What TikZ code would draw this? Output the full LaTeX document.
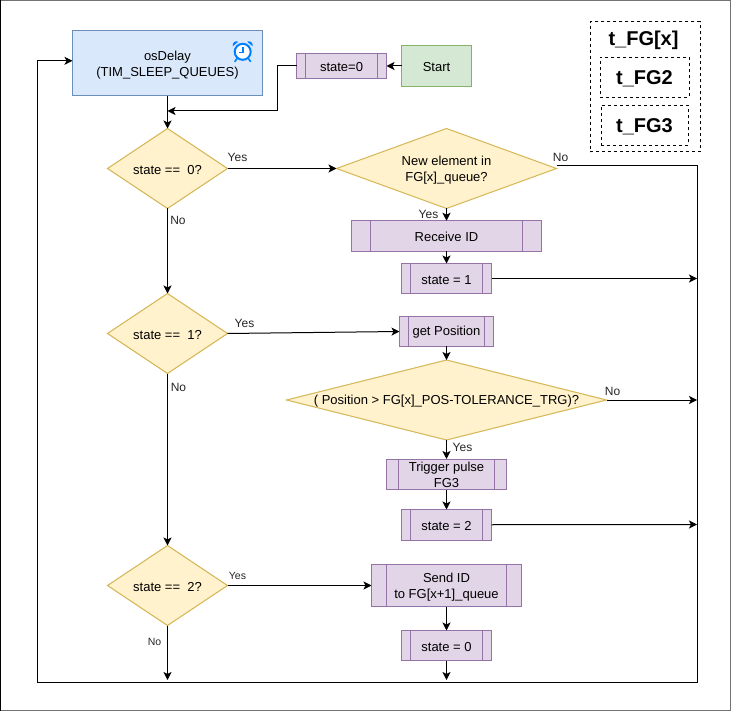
\documentclass[tikz,border=0pt]{standalone}
\usepackage{fontspec}
\setmainfont{Liberation Sans}
\usetikzlibrary{arrows.meta,shapes.geometric}
\definecolor{bfill}{HTML}{DAE8FC}\definecolor{bline}{HTML}{6C8EBF}
\definecolor{gfill}{HTML}{D5E8D4}\definecolor{gline}{HTML}{82B366}
\definecolor{pfill}{HTML}{E1D5E7}\definecolor{pline}{HTML}{9673A6}
\definecolor{yfill}{HTML}{FFF2CC}\definecolor{yline}{HTML}{D6B656}
\definecolor{clockblue}{HTML}{007FFF}
\newcommand\topgap[1]{\rule{0pt}{#1pt}}
\tikzset{
  x=1pt,y=-1pt,
  base/.style={inner sep=0pt,outer sep=0pt,align=center,line width=1pt,font=\fontsize{13}{16}\selectfont,
    execute at begin node={\rule{0pt}{11.5pt}}},
  boxb/.style={base,draw=bline,fill=bfill,minimum width=190pt,minimum height=65.5pt},
  boxg/.style={base,draw=gline,fill=gfill,minimum width=70pt,minimum height=40.5pt},
  proc/.style n args={3}{base,draw=pline,fill=pfill,minimum width=#1pt,minimum height=#2pt,
    path picture={
      \draw[pline,line width=1pt] ([xshift=#3pt]path picture bounding box.north west) -- ([xshift=#3pt]path picture bounding box.south west);
      \draw[pline,line width=1pt] ([xshift=-#3pt]path picture bounding box.north east) -- ([xshift=-#3pt]path picture bounding box.south east);
    }},
  dec/.style n args={3}{base,draw=yline,fill=yfill,shape=diamond,aspect=#3,minimum width=#1pt,minimum height=#2pt},
  conn/.style={line width=1pt,draw=black,-{Stealth[length=8pt,width=8pt,inset=2pt]}},
  lab/.style={inner sep=0pt,font=\fontsize{12}{14}\selectfont,text=black!85},
  smalllab/.style={inner sep=0pt,font=\fontsize{10.5}{12}\selectfont,text=black!85},
  dashbox/.style={draw=black,line width=1pt,dash pattern=on 3pt off 3pt,inner sep=0pt},
  bigt/.style={inner sep=0pt,font=\fontsize{20}{22}\selectfont\bfseries},
  dashtext/.style={dashbox,font=\fontsize{20}{22}\selectfont\bfseries,execute at begin node={\rule{0pt}{16.5pt}}},
}
\begin{document}
\begin{tikzpicture}
\useasboundingbox (0,0) rectangle (731,711);
% page frame
\draw[black!55,line width=1pt] (0,0.8) -- (730.5,0.8) -- (730.5,710.5) -- (0.5,710.5);
\draw[black!55,line width=1.2pt] (0,0.8) -- (731,0.8);
\draw[black,line width=1pt] (0.5,0) -- (0.5,711);

% nodes
\node[boxb] (os) at (167.5,63.25) {\topgap{12.5}osDelay\\(TIM\_SLEEP\_QUEUES)};
\node[proc={90}{25.5}{9}] (s0) at (341.5,66) {state=0};
\node[boxg] (start) at (436.5,66) {Start};

\node[dec={120}{80}{1.5}] (d0) at (167.5,168.5) {state ==\ \ 0?};
\node[dec={120}{80}{1.5}] (d1) at (167.5,333.5) {state ==\ \ 1?};
\node[dec={120}{80}{1.5}] (d2) at (167.5,585.5) {state ==\ \ 2?};

\node[dec={220}{80}{2.75}] (ne) at (446.5,168.5) {\topgap{13}New element in\\FG[x]\_queue?};
\node[proc={190}{30.5}{19}] (rid) at (446.5,236) {Receive ID};
\node[proc={90}{30}{9}] (s1) at (446.5,278.5) {state = 1};
\node[proc={94}{30}{9}] (gp) at (446.5,331.5) {get Position};
\node[dec={320}{80}{4},inner xsep=-4pt] (pos) at (446.5,400) {( Position > FG[x]\_POS-TOLERANCE\_TRG)?};
\node[proc={120}{30.5}{12}] (trg) at (446.5,474.25) {\topgap{11}Trigger pulse\\FG3};
\node[proc={90}{30.5}{9}] (s2) at (446.5,524.75) {state = 2};
\node[proc={150}{42}{15}] (sid) at (446.5,585.5) {\topgap{13}Send ID\\to FG[x+1]\_queue};
\node[proc={90}{30}{9}] (s3) at (446.5,645.5) {state = 0};

% free ends
\coordinate (s0turn) at (277.5,66);
\coordinate (s0down) at (277.5,111);
\coordinate (merge) at (167.5,111);
\coordinate (tr) at (697,165.8);
\coordinate (br) at (697,682.8);
\coordinate (bl) at (37.5,682.8);
\coordinate (tl) at (37.5,60.8);
\coordinate (os61) at (72.5,60.8);
\coordinate (r1) at (697,278.5);
\coordinate (r2) at (697,400);
\coordinate (r3) at (697,524.5);
\coordinate (b1) at (167.5,680);
\coordinate (b2) at (446.5,680);

% connectors
\draw[conn] (start.west) -- (s0.east);
\draw[conn] (s0.west) -- (s0turn) -- (s0down) -- (merge);
\draw[conn] (os.south) -- (d0.north);
\draw[conn] (d0.east) -- (ne.west);
\draw[conn] (d0.south) -- (d1.north);
\draw[conn] (d1.east) -- (gp.west);
\draw[conn] (d1.south) -- (d2.north);
\draw[conn] (d2.east) -- (sid.west);
\draw[conn] (d2.south) -- (b1);
\draw[conn] (ne.south) -- (rid.north);
\draw[conn] (rid.south) -- (s1.north);
\draw[conn] (s1.east) -- (r1);
\draw[conn] (gp.south) -- (pos.north);
\draw[conn] (pos.east) -- (r2);
\draw[conn] (pos.south) -- (trg.north);
\draw[conn] (trg.south) -- (s2.north);
\draw[conn] (s2.east) -- (r3);
\draw[conn] (sid.south) -- (s3.north);
\draw[conn] (s3.south) -- (b2);
\draw[conn] ([yshift=2.7pt]ne.east) -- (tr) -- (br) -- (bl) -- (tl) -- (os61);

% edge labels
\node[lab] (l1) at (237.5,157.5) {Yes};
\node[lab] (l2) at (178,220.5) {No};
\node[lab] (l3) at (244.5,323) {Yes};
\node[lab] (l4) at (178.5,387.5) {No};
\node[smalllab] (l5) at (237.5,576) {Yes};
\node[smalllab] (l6) at (154.5,642) {No};
\node[lab] (l7) at (560.5,157.5) {No};
\node[lab] (l8) at (428.5,214.5) {Yes};
\node[lab] (l9) at (612.5,391.5) {No};
\node[lab] (l10) at (462.5,447.5) {Yes};

% legend
\node[dashbox,minimum width=110pt,minimum height=130pt] (outer) at (645.3,86.7) {};
\node[bigt] (tx) at (643.5,40.5) {t\_FG[x]};
\node[dashtext,minimum width=89pt,minimum height=40pt] (t2) at (644.5,77.5) {t\_FG2};
\node[dashtext,minimum width=87pt,minimum height=40pt] (t3) at (644.5,125.2) {t\_FG3};

% alarm clock icon
\begin{scope}[shift={(242.7,51.8)}]
  \draw[clockblue,line width=2pt,fill=white] (0,0) circle (8);
  \fill[clockblue] (-10,-5.5) .. controls (-10.5,-9.5) and (-7,-11.5) .. (-4.5,-10) -- cycle;
  \fill[clockblue] (10,-5.5) .. controls (10.5,-9.5) and (7,-11.5) .. (4.5,-10) -- cycle;
  \draw[clockblue,line width=1.6pt] (-5.5,6.5) -- (-8,10);
  \draw[clockblue,line width=1.6pt] (5.5,6.5) -- (8,10);
  \draw[clockblue,line width=1.3pt] (0.3,-5) -- (0.3,1) -- (-4,1);
\end{scope}
\end{tikzpicture}
\end{document}
